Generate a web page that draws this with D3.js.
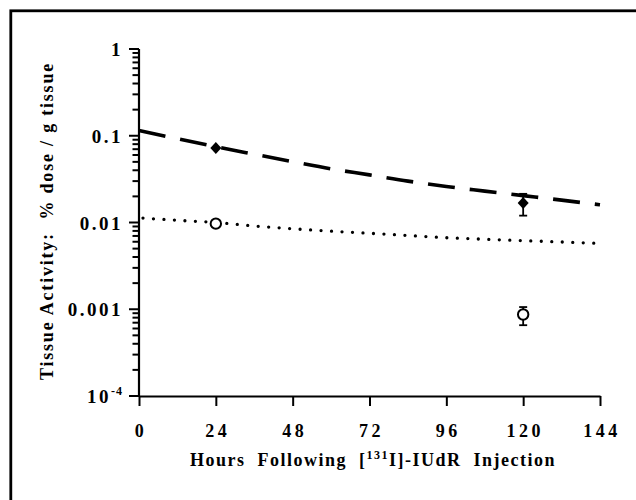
<!DOCTYPE html>
<html><head><meta charset="utf-8">
<script src="https://cdn.jsdelivr.net/npm/d3@7"></script>
<style>
html,body{margin:0;padding:0;background:#fff;}
svg{display:block;}
text{font-family:"Liberation Serif","Times New Roman",serif;font-weight:bold;fill:#000;}
</style></head>
<body>
<svg id="chart" width="636" height="500"></svg>
<script>
// ---- data ----
const xTicks = [0, 24, 48, 72, 96, 120, 144];
const yTicks = [1e-4, 1e-3, 1e-2, 1e-1, 1];
const yTickLabels = ["10^-4", "0.001", "0.01", "0.1", "1"];

// fitted curve, filled diamonds (dashed)
const fitHours = [0, 12, 24, 36, 48, 60, 72, 84, 96, 108, 120, 132, 144];
const fitDashed = [0.115, 0.0924, 0.0748, 0.0612, 0.0502, 0.0415, 0.0354, 0.0300, 0.0260, 0.0230, 0.0204, 0.0181, 0.0160];
// fitted curve, open circles (dotted)
const fitDotted = [0.01132, 0.0106, 0.0100, 0.00912, 0.00847, 0.00794, 0.00751, 0.00709, 0.00668, 0.00641, 0.00618, 0.00596, 0.00574];

const ptHours = [24, 120];
const filledVals = [0.0722, 0.0168];
const filledLo = [null, 0.0120];
const filledHi = [null, 0.0214];
const openVals = [0.0097, 0.00087];
const openLo = [null, 0.000655];
const openHi = [null, 0.00106];

const xTitleParts = ["Hours  Following  [", "131", "I]-IUdR  Injection"];
const yTitle = "Tissue Activity:  % dose / g tissue";

// ---- drawing ----
const svg = d3.select("#chart");
svg.append("rect").attr("width",636).attr("height",500).attr("fill","#fff");
// outer frame (runs off right/bottom edges)
svg.append("rect").attr("x",10.8).attr("y",10.8).attr("width",700).attr("height",600)
  .attr("fill","none").attr("stroke","#000").attr("stroke-width",2.8);

const x = d3.scaleLinear().domain([0,144]).range([139,600]);
const y = d3.scaleLog().domain([1e-4,1]).range([396,49]);

// y ticks (major and minor), drawn from the log scale
const minorTicks = [];
for (let e=-4; e<0; e++) for (let k=2; k<=9; k++) minorTicks.push(k*Math.pow(10,e));
const yAx = svg.append("g").attr("stroke","#000").attr("stroke-width",2);
yAx.selectAll("line.minor").data(minorTicks).enter().append("line").attr("class","minor")
  .attr("x1",132.5).attr("x2",139).attr("y1",d=>y(d)).attr("y2",d=>y(d));
yAx.selectAll("line.major").data(yTicks).enter().append("line").attr("class","major")
  .attr("x1",129).attr("x2",139).attr("y1",d=>y(d)).attr("y2",d=>y(d));
// axis lines
svg.append("line").attr("x1",139).attr("x2",139).attr("y1",y(1)).attr("y2",y(1e-4))
  .attr("stroke","#000").attr("stroke-width",2.2);
svg.append("g").attr("transform","translate(0,396)")
  .call(d3.axisBottom(x).tickValues(xTicks).tickSize(10).tickSizeOuter(0).tickFormat(""))
  .call(g => g.select(".domain").attr("stroke","#000").attr("stroke-width",2.2))
  .call(g => g.selectAll(".tick line").attr("stroke","#000").attr("stroke-width",2));

// y tick labels
yTicks.forEach((v,i) => {
  const lab = yTickLabels[i];
  const t = svg.append("text").attr("x",123).attr("y",y(v)+7)
    .attr("text-anchor","end").attr("font-size",19).attr("letter-spacing",2.5);
  if (lab.includes("^")) {
    const [b,s] = lab.split("^");
    t.append("tspan").text(b);
    t.append("tspan").attr("dy",-8).attr("font-size",12).attr("letter-spacing",1).text(s);
  } else t.text(lab);
});
// x tick labels
xTicks.forEach(v => {
  svg.append("text").attr("x",x(v)+2).attr("y",437).attr("text-anchor","middle")
    .attr("font-size",18).attr("letter-spacing",3.5).text(v);
});

// fit a text to a target length via letter-spacing
function fitSpacing(t, target) {
  t.attr("letter-spacing",0);
  const len = t.node().getComputedTextLength();
  const n = t.text().length;
  t.attr("letter-spacing",(target-len)/n);
}

// axis titles
const xt = svg.append("text").attr("x",373).attr("y",466).attr("text-anchor","middle")
  .attr("font-size",18).style("white-space","pre");
xt.append("tspan").text(xTitleParts[0]);
xt.append("tspan").attr("dy",-7).attr("font-size",12).text(xTitleParts[1]);
xt.append("tspan").attr("dy",7).text(xTitleParts[2]);
fitSpacing(xt, 366);

const yt = svg.append("text").attr("transform","translate(53,221) rotate(-90)")
  .attr("text-anchor","middle").attr("font-size",18).style("white-space","pre").text(yTitle);
fitSpacing(yt, 318);

// fitted curves
const line = d3.line().x(d=>x(d[0])).y(d=>y(d[1])).curve(d3.curveMonotoneX);
svg.append("path").datum(fitHours.map((h,i)=>[h,fitDashed[i]])).attr("d",line)
  .attr("fill","none").attr("stroke","#000").attr("stroke-width",3.6)
  .attr("stroke-dasharray","27,15");
svg.append("path").datum(fitHours.map((h,i)=>[h,fitDotted[i]])).attr("d",line)
  .attr("fill","none").attr("stroke","#000").attr("stroke-width",3.3)
  .attr("stroke-linecap","round").attr("stroke-dasharray","0,10.5")
  .attr("stroke-dashoffset",-4);

// error bars
function errBars(lo, hi) {
  ptHours.forEach((h,i) => {
    if (lo[i]==null) return;
    const g = svg.append("g").attr("stroke","#000").attr("stroke-width",1.8);
    g.append("line").attr("x1",x(h)).attr("x2",x(h)).attr("y1",y(lo[i])).attr("y2",y(hi[i]));
    [lo[i],hi[i]].forEach(v => g.append("line").attr("x1",x(h)-4).attr("x2",x(h)+4)
      .attr("y1",y(v)).attr("y2",y(v)));
  });
}
errBars(filledLo, filledHi);
errBars(openLo, openHi);

// markers
svg.selectAll(".dia").data(ptHours.map((h,i)=>[h,filledVals[i]])).enter().append("path")
  .attr("transform",d=>`translate(${x(d[0])},${y(d[1])})`)
  .attr("d","M0,-6L5.5,0L0,6L-5.5,0Z").attr("fill","#000");
svg.selectAll(".circ").data(ptHours.map((h,i)=>[h,openVals[i]])).enter().append("circle")
  .attr("cx",d=>x(d[0])).attr("cy",d=>y(d[1])).attr("r",5.2)
  .attr("fill","#fff").attr("stroke","#000").attr("stroke-width",2);
</script>
</body></html>
